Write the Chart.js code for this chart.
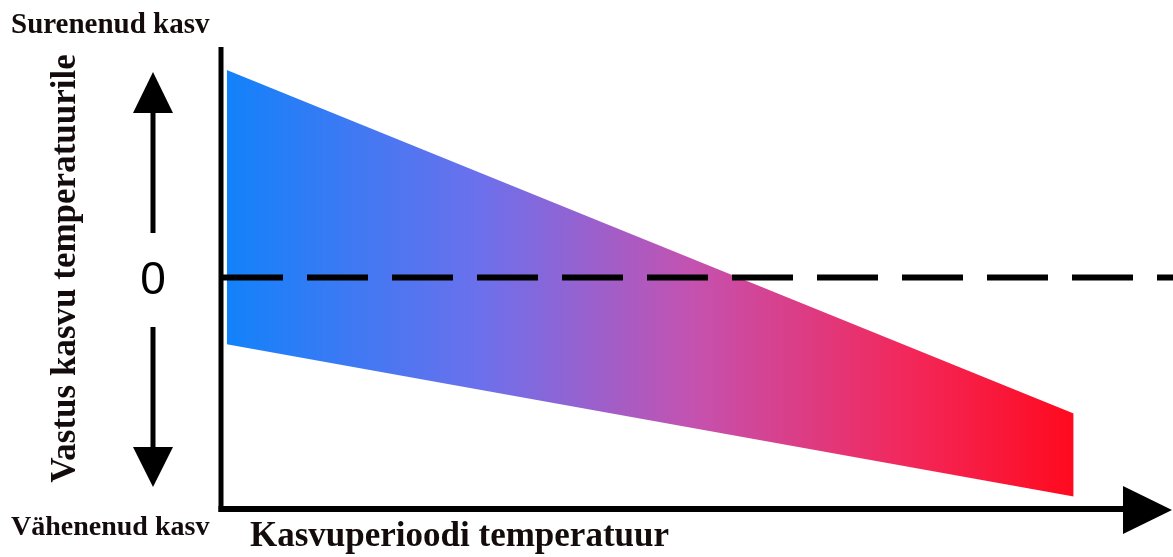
<!DOCTYPE html>
<html>
<head>
<meta charset="utf-8">
<script src="https://cdn.jsdelivr.net/npm/chart.js@4"></script>
<style>
  html, body { margin: 0; padding: 0; background: #ffffff; }
  #wrap { width: 1173px; height: 557px; }
</style>
</head>
<body>
<div id="wrap"><canvas id="c" width="1173" height="557"></canvas></div>
<script>
// ---- data (conceptual units) ----
const temperature = [0, 89.5];          // growing-season temperature (band start / end)
const upperBound  = [0.90, -0.59];      // upper edge of response band
const lowerBound  = [-0.29, -0.95];     // lower edge of response band
const zeroLineX   = [-0.5, 100];        // extent of the dashed zero line
const zeroLineY   = [0, 0];
const zeroLabel   = '0';
const yTopLabel   = 'Surenenud kasv';
const yBottomLabel = 'Vähenenud kasv';
const xTitle      = 'Kasvuperioodi temperatuur';
const yTitle      = 'Vastus kasvu temperatuurile';

const toPts = (xs, ys) => xs.map((x, i) => ({ x: x, y: ys[i] }));

function bandGradient(ctx) {
  const chart = ctx.chart;
  if (!chart.chartArea || !chart.scales.x) return 'rgba(0,0,0,0)';
  const x0 = chart.scales.x.getPixelForValue(temperature[0]);
  const x1 = chart.scales.x.getPixelForValue(temperature[temperature.length - 1]);
  const g = chart.ctx.createLinearGradient(x0, 0, x1, 0);
  g.addColorStop(0.00, 'rgb(18,130,250)');
  g.addColorStop(0.30, 'rgb(108,112,236)');
  g.addColorStop(0.55, 'rgb(196,82,176)');
  g.addColorStop(0.80, 'rgb(242,40,92)');
  g.addColorStop(1.00, 'rgb(255,10,30)');
  return g;
}

const decor = {
  id: 'decor',
  afterDraw(chart) {
    const c = chart.ctx;
    const xs = chart.scales.x, ys = chart.scales.y;
    const top = chart.chartArea.top, bottom = chart.chartArea.bottom;
    c.save();
    c.fillStyle = '#000';
    c.strokeStyle = '#000';
    c.lineCap = 'butt';

    // y axis line
    const axX = xs.getPixelForValue(-0.5) - 1;
    c.lineWidth = 5;
    c.beginPath(); c.moveTo(axX, top); c.lineTo(axX, bottom + 4); c.stroke();

    // x axis line with arrow head
    const axY = bottom + 1;
    c.lineWidth = 6;
    c.beginPath(); c.moveTo(axX - 2.5, axY); c.lineTo(1126, axY); c.stroke();
    c.beginPath(); c.moveTo(1123, axY - 23); c.lineTo(1172, axY + 1); c.lineTo(1123, axY + 25); c.closePath(); c.fill();

    // vertical double arrow
    const ax = 153;
    const y0 = ys.getPixelForValue(0);
    c.lineWidth = 5;
    c.beginPath(); c.moveTo(ax, 110); c.lineTo(ax, 233); c.stroke();
    c.beginPath(); c.moveTo(ax, 327); c.lineTo(ax, 450); c.stroke();
    c.beginPath(); c.moveTo(ax, 72); c.lineTo(133, 113); c.lineTo(173, 113); c.closePath(); c.fill();
    c.beginPath(); c.moveTo(ax, 487); c.lineTo(133, 447); c.lineTo(173, 447); c.closePath(); c.fill();

    // zero label
    c.font = '46px "Liberation Sans", Arial, sans-serif';
    c.textAlign = 'center';
    c.textBaseline = 'alphabetic';
    c.fillText(zeroLabel, ax, y0 + 16);

    // corner labels
    c.fillStyle = '#140c0c';
    c.textAlign = 'left';
    c.font = 'bold 29px "Liberation Serif", "Times New Roman", serif';
    c.fillText(yTopLabel, 11, 33);
    c.font = 'bold 28px "Liberation Serif", "Times New Roman", serif';
    c.fillText(yBottomLabel, 11, 535);

    // x title
    c.font = 'bold 35px "Liberation Serif", "Times New Roman", serif';
    c.fillText(xTitle, 250, 546);

    // y title (rotated)
    c.translate(75, 268.5);
    c.rotate(-Math.PI / 2);
    c.textAlign = 'center';
    c.fillText(yTitle, 0, 0);
    c.restore();
  }
};

new Chart(document.getElementById('c'), {
  type: 'line',
  data: {
    datasets: [
      {
        data: toPts(temperature, upperBound),
        borderWidth: 0,
        borderColor: 'rgba(0,0,0,0)',
        pointRadius: 0,
        fill: '+1',
        backgroundColor: bandGradient,
        tension: 0,
        order: 2
      },
      {
        data: toPts(temperature, lowerBound),
        borderWidth: 0,
        borderColor: 'rgba(0,0,0,0)',
        pointRadius: 0,
        fill: false,
        tension: 0,
        order: 3
      },
      {
        data: toPts(zeroLineX, zeroLineY),
        borderColor: '#000',
        borderWidth: 6,
        borderDash: [61, 24],
        borderCapStyle: 'butt',
        pointRadius: 0,
        fill: false,
        tension: 0,
        order: 0
      }
    ]
  },
  options: {
    responsive: false,
    animation: false,
    devicePixelRatio: 1,
    layout: { padding: { left: 222, right: 0, top: 47, bottom: 49 } },
    plugins: { legend: { display: false }, tooltip: { enabled: false }, filler: { drawTime: 'beforeDatasetsDraw' } },
    scales: {
      x: { type: 'linear', min: -0.5, max: 100, display: false },
      y: { type: 'linear', min: -1, max: 1, display: false }
    }
  },
  plugins: [decor]
});
</script>
</body>
</html>
